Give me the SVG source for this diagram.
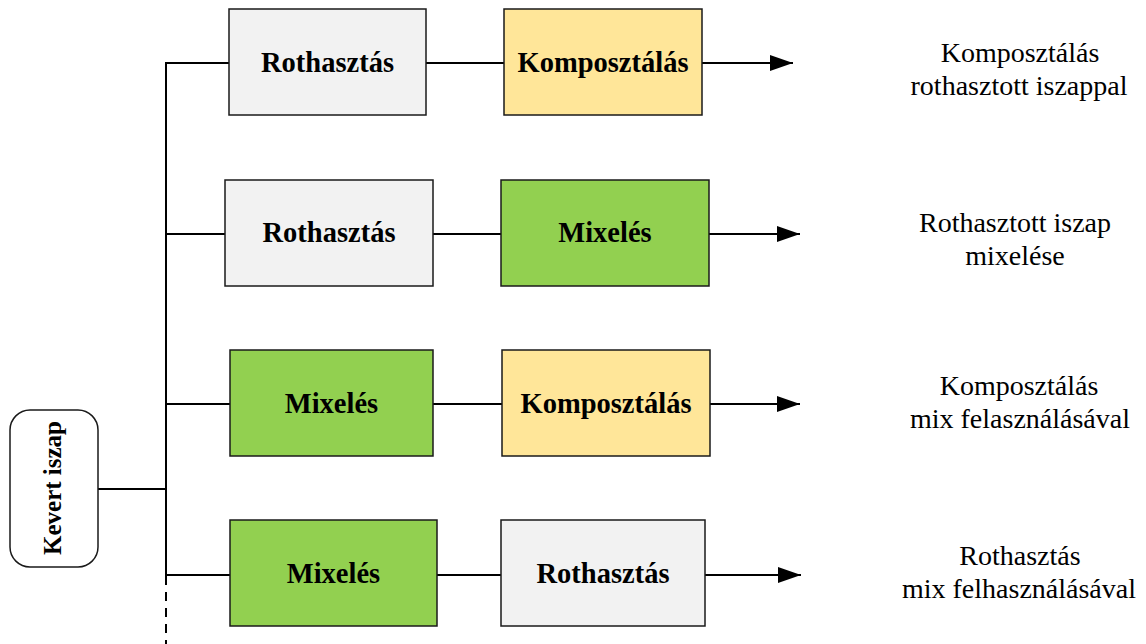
<svg xmlns="http://www.w3.org/2000/svg" width="1146" height="644" viewBox="0 0 1146 644">
<defs>
<marker id="ah" markerWidth="24" markerHeight="16" refX="23" refY="8" orient="auto" markerUnits="userSpaceOnUse">
<path d="M0,0 L23,8 L0,16 Z" fill="#000"/>
</marker>
<style>
.box{stroke:#1a1a1a;stroke-width:1.5}
.gray{fill:#f2f2f2}
.yel{fill:#ffe699}
.grn{fill:#92d050}
.bt{font-family:"Liberation Serif",serif;font-weight:bold;font-size:28.5px;text-anchor:middle;fill:#000}
.rt{font-family:"Liberation Serif",serif;font-size:28px;text-anchor:middle;fill:#000}
.ln{stroke:#000;stroke-width:2;fill:none}
</style>
</defs>
<rect width="1146" height="644" fill="#fff"/>
<g id="connectors">
<line class="ln" x1="98" y1="489" x2="166" y2="489"/>
<line class="ln" x1="166" y1="62" x2="166" y2="576"/>
<line class="ln" x1="166" y1="576" x2="166" y2="644" stroke-dasharray="9,7"/>
<line class="ln" x1="166" y1="63" x2="229" y2="63"/>
<line class="ln" x1="426" y1="63" x2="504" y2="63"/>
<line class="ln" x1="702" y1="63" x2="793" y2="63" marker-end="url(#ah)"/>
<line class="ln" x1="166" y1="234" x2="225" y2="234"/>
<line class="ln" x1="433" y1="234" x2="501" y2="234"/>
<line class="ln" x1="709" y1="234" x2="800" y2="234" marker-end="url(#ah)"/>
<line class="ln" x1="166" y1="404" x2="230" y2="404"/>
<line class="ln" x1="433" y1="404" x2="502" y2="404"/>
<line class="ln" x1="710" y1="404" x2="800" y2="404" marker-end="url(#ah)"/>
<line class="ln" x1="166" y1="575" x2="230" y2="575"/>
<line class="ln" x1="437" y1="575" x2="501" y2="575"/>
<line class="ln" x1="705" y1="575" x2="801" y2="575" marker-end="url(#ah)"/>
</g>
<g id="kevert">
<rect x="10" y="410" width="88" height="157" rx="20" fill="#fff" stroke="#1a1a1a" stroke-width="1.5"/>
<text class="bt" style="font-size:25px" transform="translate(61,488) rotate(-90)">Kevert iszap</text>
</g>
<g id="r1b1"><rect class="box gray" x="229" y="9" width="197" height="106"/><text class="bt" x="327.5" y="72">Rothasztás</text></g>
<g id="r1b2"><rect class="box yel" x="504" y="9" width="198" height="106"/><text class="bt" x="603" y="72">Komposztálás</text></g>
<g id="r2b1"><rect class="box gray" x="225" y="180" width="208" height="106"/><text class="bt" x="329" y="242">Rothasztás</text></g>
<g id="r2b2"><rect class="box grn" x="501" y="180" width="208" height="106"/><text class="bt" x="605" y="242">Mixelés</text></g>
<g id="r3b1"><rect class="box grn" x="230" y="350" width="203" height="106"/><text class="bt" x="331.5" y="413">Mixelés</text></g>
<g id="r3b2"><rect class="box yel" x="502" y="350" width="208" height="106"/><text class="bt" x="606" y="413">Komposztálás</text></g>
<g id="r4b1"><rect class="box grn" x="230" y="520" width="207" height="106"/><text class="bt" x="333.5" y="583">Mixelés</text></g>
<g id="r4b2"><rect class="box gray" x="501" y="520" width="204" height="106"/><text class="bt" x="603" y="583">Rothasztás</text></g>
<g id="out1"><text class="rt" x="1020" y="62">Komposztálás</text><text class="rt" x="1019" y="95">rothasztott iszappal</text></g>
<g id="out2"><text class="rt" x="1015" y="232">Rothasztott iszap</text><text class="rt" x="1015" y="265">mixelése</text></g>
<g id="out3"><text class="rt" x="1019" y="395">Komposztálás</text><text class="rt" x="1020" y="428">mix felasználásával</text></g>
<g id="out4"><text class="rt" x="1020" y="565">Rothasztás</text><text class="rt" x="1019" y="598">mix felhasználásával</text></g>
</svg>
